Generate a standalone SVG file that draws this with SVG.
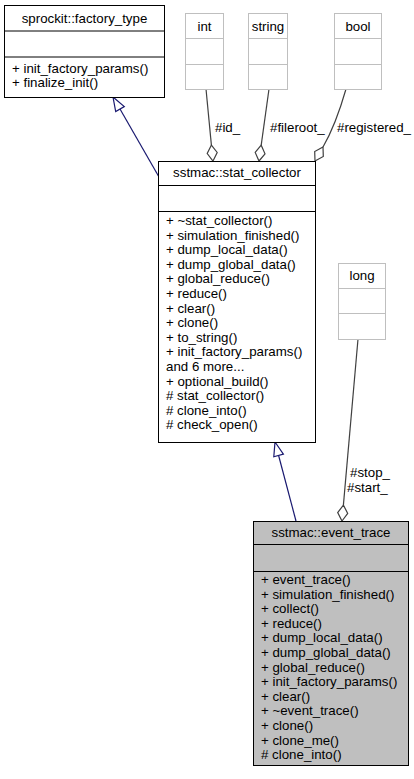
<svg xmlns="http://www.w3.org/2000/svg" width="414" height="779" viewBox="0 0 414 779">
<style>
text{font-family:"Liberation Sans",Arial,sans-serif;font-size:13.3px;fill:#000}
.c{text-anchor:middle}
.box{fill:#fff;stroke:#000;stroke-width:1}
.gbox{fill:#fff;stroke:#bfbfbf;stroke-width:1}
.cur{fill:#bfbfbf;stroke:#000;stroke-width:1}
.sep{stroke:#000;stroke-width:1}
.gsep{stroke:#bfbfbf;stroke-width:1}
.inh{fill:none;stroke:#191970;stroke-width:1.2}
.inhh{fill:#fff;stroke:#191970;stroke-width:1.2}
.agg{fill:none;stroke:#404040;stroke-width:1.2}
.aggh{fill:#fff;stroke:#404040;stroke-width:1.2}
</style>
<rect width="414" height="779" fill="#fff"/>
<g id="connectors">
<path class="inh" d="M159,177 L120,109"/>
<polygon class="inhh" points="113,97 124.3,106.6 115.7,111.6"/>
<path class="inh" d="M296,521 L278.6,455.5"/>
<polygon class="inhh" points="275,442 283.4,454.2 273.8,456.8"/>
<path class="agg" d="M206,89 L211.4,145.1"/>
<polygon class="aggh" points="213,161 217.2,152.5 211.4,145.1 207.2,153.5"/>
<text x="215" y="132">#id_</text>
<path class="agg" d="M269,89 L261.2,145.2"/>
<polygon class="aggh" points="259,161 265,153.8 261.2,145.2 255.2,152.4"/>
<text x="270" y="132">#fileroot_</text>
<path class="agg" d="M346,89 C340,110 334,128 323,147"/>
<polygon class="aggh" points="315,161 323.3,156.5 323,147 314.7,151.5"/>
<text x="337" y="132">#registered_</text>
<path class="agg" d="M358,339 L343.4,505.1"/>
<polygon class="aggh" points="342,521 347.7,513.4 343.4,505.1 337.7,512.6"/>
<text x="350" y="477">#stop_</text>
<text x="347" y="492">#start_</text>
</g>
<g id="factory_type">
<rect class="box" x="4.5" y="5.5" width="160" height="92"/>
<line class="sep" x1="4.5" y1="31" x2="164.5" y2="31"/>
<line class="sep" x1="4.5" y1="57" x2="164.5" y2="57"/>
<text class="c" x="84.5" y="23">sprockit::factory_type</text>
<text x="12" y="72.5">+ init_factory_params()</text>
<text x="12" y="87">+ finalize_init()</text>
</g>
<g id="int">
<rect class="gbox" x="185.5" y="13.5" width="38" height="76"/>
<line class="gsep" x1="185.5" y1="38.5" x2="223.5" y2="38.5"/>
<line class="gsep" x1="185.5" y1="64.5" x2="223.5" y2="64.5"/>
<text class="c" x="204.5" y="31">int</text>
</g>
<g id="string">
<rect class="gbox" x="248.5" y="13.5" width="39" height="76"/>
<line class="gsep" x1="248.5" y1="38.5" x2="287.5" y2="38.5"/>
<line class="gsep" x1="248.5" y1="64.5" x2="287.5" y2="64.5"/>
<text class="c" x="268" y="31">string</text>
</g>
<g id="bool">
<rect class="gbox" x="334.5" y="13.5" width="47" height="76"/>
<line class="gsep" x1="334.5" y1="38.5" x2="381.5" y2="38.5"/>
<line class="gsep" x1="334.5" y1="64.5" x2="381.5" y2="64.5"/>
<text class="c" x="358" y="31">bool</text>
</g>
<g id="stat_collector">
<rect class="box" x="158.5" y="161.5" width="157" height="281"/>
<line class="sep" x1="158.5" y1="185.5" x2="315.5" y2="185.5"/>
<line class="sep" x1="158.5" y1="211.5" x2="315.5" y2="211.5"/>
<text class="c" x="237" y="177">sstmac::stat_collector</text>
<text x="166" y="225">+ ~stat_collector()</text>
<text x="166" y="239.6">+ simulation_finished()</text>
<text x="166" y="254.2">+ dump_local_data()</text>
<text x="166" y="268.8">+ dump_global_data()</text>
<text x="166" y="283.4">+ global_reduce()</text>
<text x="166" y="298">+ reduce()</text>
<text x="166" y="312.6">+ clear()</text>
<text x="166" y="327.2">+ clone()</text>
<text x="166" y="341.8">+ to_string()</text>
<text x="166" y="356.4">+ init_factory_params()</text>
<text x="166" y="371">and 6 more...</text>
<text x="166" y="385.6">+ optional_build()</text>
<text x="166" y="400.2"># stat_collector()</text>
<text x="166" y="414.8"># clone_into()</text>
<text x="166" y="429.4"># check_open()</text>
</g>
<g id="long">
<rect class="gbox" x="338.5" y="263.5" width="47" height="76"/>
<line class="gsep" x1="338.5" y1="288.5" x2="385.5" y2="288.5"/>
<line class="gsep" x1="338.5" y1="313.5" x2="385.5" y2="313.5"/>
<text class="c" x="362" y="280">long</text>
</g>
<g id="event_trace">
<rect class="cur" x="253.5" y="521.5" width="155" height="244"/>
<line class="sep" x1="253.5" y1="544.5" x2="408.5" y2="544.5"/>
<line class="sep" x1="253.5" y1="571.5" x2="408.5" y2="571.5"/>
<text class="c" x="331" y="537">sstmac::event_trace</text>
<text x="261" y="584">+ event_trace()</text>
<text x="261" y="598.6">+ simulation_finished()</text>
<text x="261" y="613.2">+ collect()</text>
<text x="261" y="627.8">+ reduce()</text>
<text x="261" y="642.4">+ dump_local_data()</text>
<text x="261" y="657">+ dump_global_data()</text>
<text x="261" y="671.6">+ global_reduce()</text>
<text x="261" y="686.2">+ init_factory_params()</text>
<text x="261" y="700.8">+ clear()</text>
<text x="261" y="715.4">+ ~event_trace()</text>
<text x="261" y="730">+ clone()</text>
<text x="261" y="744.6">+ clone_me()</text>
<text x="261" y="759.2"># clone_into()</text>
</g>
</svg>
